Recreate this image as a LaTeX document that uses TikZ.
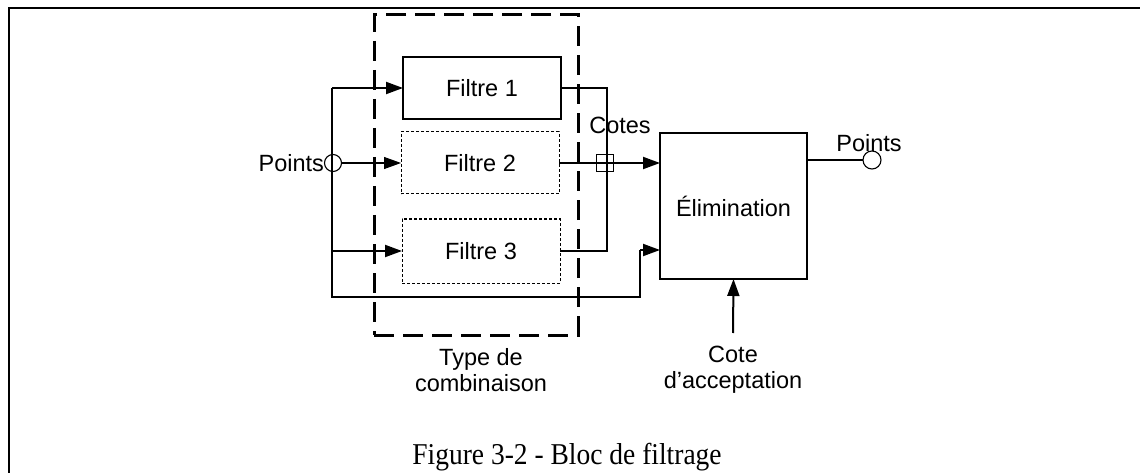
\documentclass[tikz,border=0pt]{standalone}
\usepackage{fontspec}
\setmainfont{Liberation Serif}
\setsansfont{Liberation Sans}
\usetikzlibrary{arrows.meta}
\begin{document}
\begin{tikzpicture}[x=1pt,y=-1pt,
  every node/.style={inner sep=0pt,outer sep=0pt},
  lbl/.style={font=\sffamily\fontsize{23.5}{26}\selectfont, align=center},
  filtbox/.style={draw, line width=1.3pt, minimum width=158pt, minimum height=62pt, lbl},
  dotbox/.style={filtbox, line width=1pt, dash pattern=on 3pt off 2pt},
  conn/.style={line width=2pt},
  arr/.style={conn, -{Triangle[length=17pt,width=12pt]}},
  thin/.style={line width=1.1pt}
]
\useasboundingbox (0,0) rectangle (1140,473);
% frame
\draw[line width=2pt] (9,473) -- (9,8) -- (1140,8);
% dashed combination box
\node[draw, line width=3pt, dash pattern=on 20pt off 9pt, minimum width=204pt, minimum height=320pt] (comb) at (476,175) {};
% filters
\node[filtbox] (f1) at (482,88) {Filtre 1};
\node[dotbox] (f2) at (480,163) {Filtre 2};
\node[dotbox, minimum height=64pt] (f3) at (481,251) {Filtre 3};
% elimination
\node[draw, line width=1.5pt, minimum width=147pt, minimum height=146pt, lbl] (elim) at (733.5,206) {Élimination};
% ports
\node[draw, thin, circle, minimum size=17pt] (pin) at (333,163) {};
\node[draw, thin, circle, minimum size=18pt] (pout) at (872,160) {};
\node[draw, thin, minimum size=17pt] (sq) at (605,163) {};
% labels
\node[lbl, anchor=east] (lpin) at (324,163) {Points};
\node[lbl] (lcotes) at (620,125) {Cotes};
\node[lbl] (lpout) at (869,143) {Points};
\node[lbl] (lcomb) at (481,370) {Type de\\combinaison};
\node[lbl] (lacc) at (733,370) {Cote\\d’acceptation};
\node[font=\fontsize{27.5}{30}\selectfont, yscale=1.1] (cap) at (567,457) {Figure 3-2 - Bloc de filtrage};
% coordinates
\coordinate (b1) at (332,88);
\coordinate (b3) at (332,251);
\coordinate (bb) at (332,297);
\coordinate (j3) at (640,250);
\coordinate (jc) at (607,88);
\coordinate (acc) at (733,333);
% bus and inputs
\draw[conn] (b1) -- (bb) -| (j3);
\draw[arr] (j3) -- (j3 -| elim.west);
\draw[arr] (b1) -- (f1.west);
\draw[arr] (b3) -- (f3.west);
\draw[thin, -{Triangle[length=17pt,width=12pt]}] (pin) -- (f2.west);
% outputs
\draw[conn] (f1.east) -- (jc) |- (f3.east);
\draw[arr] (f2.east) -- (f2.east -| elim.west);
\draw[thin] (elim.east |- pout) -- (pout);
\draw[arr] (acc) -- (elim.south);
\end{tikzpicture}
\end{document}
